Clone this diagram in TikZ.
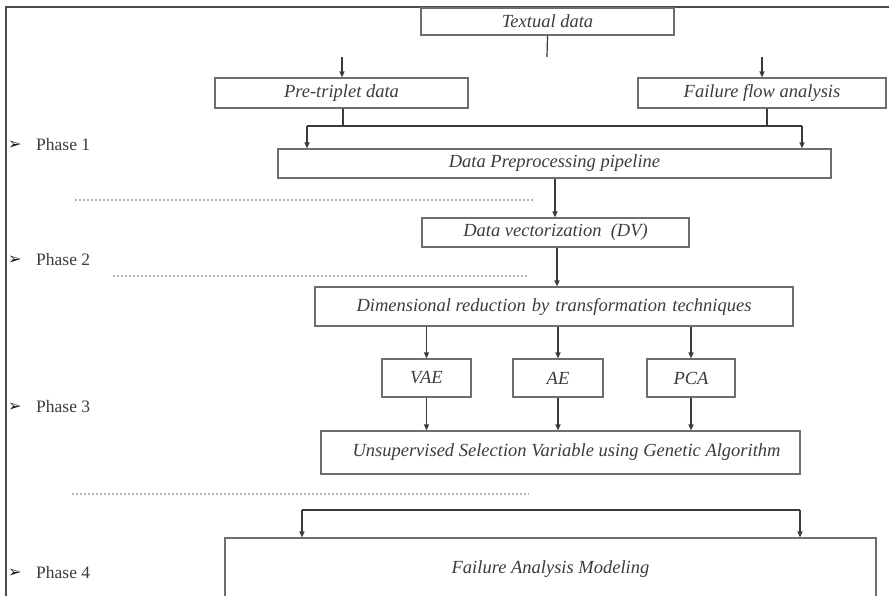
\documentclass[tikz,border=0pt]{standalone}
\usepackage{fontspec}
\setmainfont{Liberation Serif}
\newfontfamily\dejavu{DejaVu Sans}
\usetikzlibrary{arrows.meta}
\definecolor{linec}{HTML}{3A3A3A}
\definecolor{boxc}{HTML}{6E6E6E}
\definecolor{txtc}{HTML}{3C3C3C}
\definecolor{dotc}{HTML}{B4B4B4}
\begin{document}
\begin{tikzpicture}[x=1pt,y=-1pt,
  boxnode/.style={draw=boxc,line width=1.2pt,rectangle,inner sep=0pt,text=txtc,
    font=\fontsize{18.5}{20}\selectfont\itshape},
  conn/.style={draw=linec,line width=1.2pt},
  arr/.style={conn,-{Triangle[length=6pt,width=5pt]}},
  sep/.style={draw=dotc,line width=1.2pt,dash pattern=on 2pt off 2pt},
  phase/.style={text=txtc,font=\fontsize{17.5}{20}\selectfont,anchor=west,inner sep=0pt},
  bullet/.style={text=black!90,font=\dejavu\fontsize{16}{18}\selectfont,inner sep=0pt,anchor=west}]
\clip (0,0) rectangle (889,595);
\fill[white] (0,0) rectangle (889,595);
% frame
\draw[draw=black!70,line width=1.4pt] (6,600) -- (6,7) -- (895,7);

% boxes
\node[boxnode,minimum width=253pt,minimum height=27pt] (txt) at (547.5,21.5) {Textual data};
\node[boxnode,minimum width=253pt,minimum height=30pt] (pre) at (341.5,93) {Pre-triplet data};
\node[boxnode,minimum width=248pt,minimum height=30pt] (ffa) at (762,93) {Failure flow analysis};
\node[boxnode,minimum width=553pt,minimum height=29pt] (dpp) at (554.5,163.5) {Data Preprocessing pipeline};
\node[boxnode,minimum width=267pt,minimum height=29pt] (dv) at (555.5,232.5) {Data vectorization\ \ (DV)};
\node[boxnode,minimum width=478pt,minimum height=39pt] (dbt) at (554,306.5) {Dimensional reduction\hspace{6pt}by\hspace{6pt}transformation\hspace{6pt}techniques\hspace{26pt}};
\node[boxnode,minimum width=89pt,minimum height=38pt] (vae) at (426.5,378) {VAE};
\node[boxnode,minimum width=90pt,minimum height=38pt] (ae) at (558,378) {AE};
\node[boxnode,minimum width=88pt,minimum height=38pt] (pca) at (691,378) {PCA};
\node[boxnode,minimum width=479pt,minimum height=43pt] (usv) at (560.5,452.5) {\hspace{12pt}Unsupervised Selection Variable using Genetic Algorithm};
\node[boxnode,minimum width=651pt,minimum height=62pt] (fam) at (550.5,569) {Failure Analysis Modeling};

% connectors
\coordinate (stub) at (547,57);
\draw[conn] (txt.south) -- (stub);
\coordinate (ta) at (342,57);
\coordinate (tb) at (762,57);
\draw[arr] (ta) -- (ta |- pre.north);
\draw[arr] (tb) -- (tb |- ffa.north);

\coordinate (hl) at (307,126);
\coordinate (hr) at (802,126);
\draw[conn] (pre.south -| 343,0) -- (343,126);
\draw[conn] (ffa.south -| 767,0) -- (767,126);
\draw[conn] (hl) -- (hr);
\draw[arr] (hl) -- (hl |- dpp.north);
\draw[arr] (hr) -- (hr |- dpp.north);

\draw[arr] (dpp.south -| 555,0) -- (dv.north -| 555,0);
\draw[arr] (dv.south -| 557,0) -- (dbt.north -| 557,0);

\draw[arr] (dbt.south -| vae) -- (vae.north);
\draw[arr] (dbt.south -| ae) -- (ae.north);
\draw[arr] (dbt.south -| pca) -- (pca.north);
\draw[arr] (vae.south) -- (usv.north -| vae);
\draw[arr] (ae.south) -- (usv.north -| ae);
\draw[arr] (pca.south) -- (usv.north -| pca);

\coordinate (fl) at (302,510);
\coordinate (fr) at (800,510);
\draw[conn] (fl) -- (fr);
\draw[arr] (fl) -- (fl |- fam.north);
\draw[arr] (fr) -- (fr |- fam.north);

% phase separators
\draw[sep] (75,200) -- (533,200);
\draw[sep] (113,276) -- (527,276);
\draw[sep] (72,494) -- (529,494);

% phase labels
\node[bullet] (b1) at (8,145) {➢};
\node[phase] (p1) at (36,145) {Phase 1};
\node[bullet] (b2) at (8,260) {➢};
\node[phase] (p2) at (36,260) {Phase 2};
\node[bullet] (b3) at (8,407) {➢};
\node[phase] (p3) at (36,407) {Phase 3};
\node[bullet] (b4) at (8,573) {➢};
\node[phase] (p4) at (36,573) {Phase 4};
\end{tikzpicture}
\end{document}
